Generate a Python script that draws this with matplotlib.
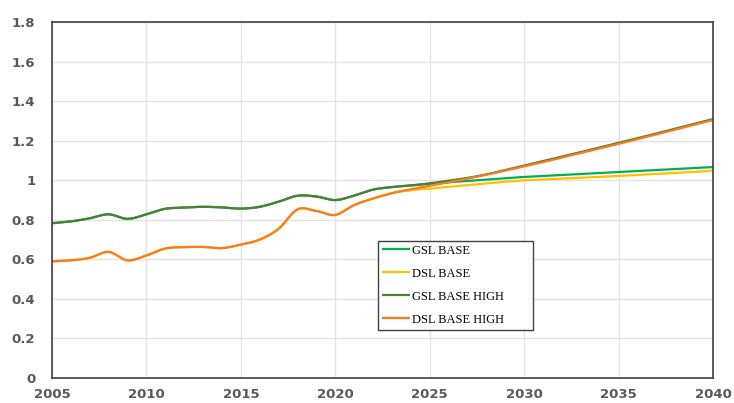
import numpy as np
import matplotlib
matplotlib.use('Agg')
import matplotlib.pyplot as plt

years = list(range(2005, 2041))

# historical values (shared by all series), 2005-2023
hist_gsl = [0.783, 0.792, 0.808, 0.828, 0.805, 0.828, 0.856, 0.862, 0.866, 0.863,
            0.857, 0.866, 0.892, 0.922, 0.918, 0.900, 0.923, 0.953, 0.966]
hist_dsl = [0.590, 0.595, 0.608, 0.638, 0.595, 0.620, 0.655, 0.662, 0.663, 0.657,
            0.675, 0.700, 0.755, 0.853, 0.845, 0.825, 0.875, 0.908, 0.935]

# projections 2024-2040
gsl_base_proj = [0.974, 0.982, 0.990, 0.997, 1.004, 1.011, 1.017, 1.022, 1.027, 1.032,
                 1.037, 1.042, 1.047, 1.052, 1.057, 1.062, 1.067]
dsl_base_proj = [0.950, 0.958, 0.967, 0.976, 0.985, 0.993, 1.000, 1.004, 1.009, 1.013,
                 1.018, 1.022, 1.027, 1.032, 1.037, 1.042, 1.050]
gsl_high_proj = [0.974, 0.985, 0.998, 1.012, 1.030, 1.052, 1.075, 1.097, 1.120, 1.143,
                 1.166, 1.190, 1.213, 1.237, 1.261, 1.285, 1.310]
dsl_high_proj = [0.955, 0.972, 0.990, 1.008, 1.028, 1.049, 1.070, 1.092, 1.115, 1.138,
                 1.161, 1.184, 1.208, 1.232, 1.256, 1.280, 1.305]

series = [
    ('GSL BASE', hist_gsl + gsl_base_proj, '#00b050'),
    ('DSL BASE', hist_dsl + dsl_base_proj, '#ffc000'),
    ('GSL BASE HIGH', hist_gsl + gsl_high_proj, '#4f7f35'),
    ('DSL BASE HIGH', hist_dsl + dsl_high_proj, '#fb7a1c'),
]


def smooth(x, y, n=12):
    # catmull-rom curve through the points, like excel's smoothed lines
    x = np.asarray(x, float)
    y = np.asarray(y, float)
    px = np.concatenate([[2*x[0]-x[1]], x, [2*x[-1]-x[-2]]])
    py = np.concatenate([[2*y[0]-y[1]], y, [2*y[-1]-y[-2]]])
    xs, ys = [], []
    t = np.linspace(0, 1, n, endpoint=False)
    for i in range(1, len(px)-2):
        for arr, out in ((px, xs), (py, ys)):
            p0, p1, p2, p3 = arr[i-1], arr[i], arr[i+1], arr[i+2]
            out.extend(0.5*((2*p1) + (-p0+p2)*t + (2*p0-5*p1+4*p2-p3)*t**2
                            + (-p0+3*p1-3*p2+p3)*t**3))
    xs.append(x[-1])
    ys.append(y[-1])
    return np.array(xs), np.array(ys)


fig = plt.figure(figsize=(7.34, 4.03), dpi=100)
ax = fig.add_axes([0.0708, 0.062, 0.9006, 0.883])

for name, vals, col in series:
    sx, sy = smooth(years, vals)
    ax.plot(sx, sy, color=col, lw=1.6, label=name, solid_capstyle='butt')

ax.set_xlim(2005, 2040)
ax.set_ylim(0, 1.8)
ax.set_xticks(range(2005, 2041, 5))
ax.set_yticks(np.arange(0, 1.81, 0.2))
ax.set_yticklabels(['0', '0.2', '0.4', '0.6', '0.8', '1', '1.2', '1.4', '1.6', '1.8'])
ax.grid(True, color='#e3e3e3', lw=1)
ax.set_axisbelow(True)
for s in ax.spines.values():
    s.set_color('#404040')
    s.set_linewidth(1.2)
ax.tick_params(length=0, labelsize=9.5, labelcolor='#595959')
ax.tick_params(axis='y', pad=12)
ax.tick_params(axis='x', pad=7.5)
for lab in ax.get_xticklabels() + ax.get_yticklabels():
    lab.set_fontweight('bold')

leg = ax.legend(loc='upper left', bbox_to_anchor=(0.493, 0.375, 0.235, 0.01),
                mode='expand', frameon=True,
                fancybox=False, edgecolor='#404040', framealpha=1,
                prop={'family': 'Liberation Serif', 'size': 9},
                handlelength=2.3, handletextpad=0.15, labelspacing=0.88,
                borderpad=0.3, borderaxespad=0)
leg.get_frame().set_linewidth(1.0)

fig.savefig('out.png', dpi=100)
